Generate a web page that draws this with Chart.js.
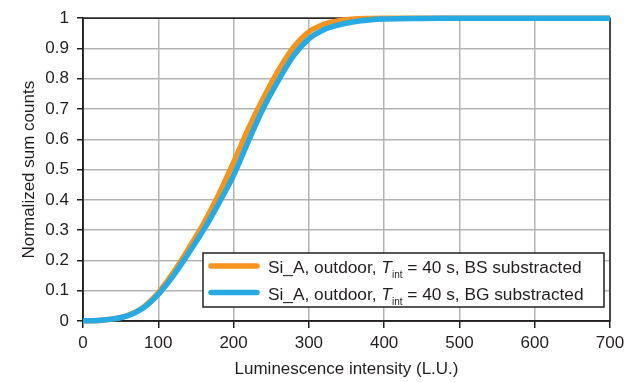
<!DOCTYPE html>
<html>
<head>
<meta charset="utf-8">
<script src="https://cdn.jsdelivr.net/npm/chart.js@4"></script>
<style>
  html, body { margin: 0; padding: 0; background: #fff; }
</style>
</head>
<body>
<canvas id="chart" width="634" height="382"></canvas>
<script>
// luminescence intensity (L.U.) at which the cumulative counts were read
const intensity = [0, 20, 40, 60, 80, 100, 120, 140, 160, 180, 200, 220, 240, 260, 280, 300, 320, 340, 360, 380, 400, 450, 500, 600, 700];
// normalized sum counts, BS subtracted
const countsBS = [0.001, 0.002, 0.007, 0.019, 0.045, 0.093, 0.160, 0.238, 0.321, 0.416, 0.524, 0.637, 0.738, 0.829, 0.905, 0.955, 0.980, 0.992, 0.997, 0.999, 1, 1, 1, 1, 1];
// normalized sum counts, BG subtracted
const countsBG = [0.001, 0.002, 0.007, 0.018, 0.043, 0.088, 0.150, 0.223, 0.300, 0.387, 0.481, 0.596, 0.705, 0.796, 0.877, 0.932, 0.962, 0.978, 0.988, 0.994, 0.997, 0.999, 1, 1, 1];

const seriesLabels = [
  'Si_A, outdoor, T_int = 40 s, BS substracted',
  'Si_A, outdoor, T_int = 40 s, BG substracted'
];
const xTickLabels = ['0', '100', '200', '300', '400', '500', '600', '700'];
const yTickLabels = ['0', '0.1', '0.2', '0.3', '0.4', '0.5', '0.6', '0.7', '0.8', '0.9', '1'];

const FONT = "'Liberation Sans', Arial, sans-serif";
const INK = '#231f20';
const ORANGE = '#f7941e';
const BLUE = '#27aae1';

const toPoints = ys => intensity.map((x, i) => ({ x: x, y: ys[i] }));

// black box round the plot area
const frame = {
  id: 'frame',
  beforeDatasetsDraw(chart) {
    const { ctx, chartArea: a } = chart;
    ctx.save();
    ctx.strokeStyle = INK;
    ctx.lineWidth = 1.5;
    ctx.strokeRect(a.left, a.top, a.right - a.left, a.bottom - a.top);
    ctx.restore();
  }
};

// label with italic T and a subscript "int"
function drawLabel(ctx, text, x, y) {
  const [pre, post] = text.split('T_int');
  ctx.font = '17.3px ' + FONT;
  ctx.fillText(pre, x, y);
  x += ctx.measureText(pre).width;
  ctx.font = 'italic 17.3px ' + FONT;
  ctx.fillText('T', x, y);
  x += ctx.measureText('T').width;
  ctx.font = '10px ' + FONT;
  ctx.fillText('int', x, y + 5);
  x += ctx.measureText('int').width;
  ctx.font = '17.3px ' + FONT;
  ctx.fillText(post, x, y);
}

// legend box in the lower right of the plot
const boxLegend = {
  id: 'boxLegend',
  afterDatasetsDraw(chart) {
    const { ctx, chartArea: a } = chart;
    const w = 401, h = 54;
    const right = a.right - 6, bottom = a.bottom - 14;
    const left = right - w, top = bottom - h;
    ctx.save();
    ctx.fillStyle = '#fff';
    ctx.fillRect(left, top, w, h);
    ctx.strokeStyle = INK;
    ctx.lineWidth = 1.5;
    ctx.strokeRect(left, top, w, h);
    const colors = [ORANGE, BLUE];
    seriesLabels.forEach((label, i) => {
      const cy = top + 13 + i * 26.5;
      ctx.strokeStyle = colors[i];
      ctx.lineWidth = 5.5;
      ctx.lineCap = 'round';
      ctx.beginPath();
      ctx.moveTo(left + 8, cy);
      ctx.lineTo(left + 54, cy);
      ctx.stroke();
      ctx.fillStyle = INK;
      ctx.textBaseline = 'alphabetic';
      drawLabel(ctx, label, left + 65, cy + 7);
    });
    ctx.restore();
  }
};

const lineStyle = {
  borderWidth: 5.5,
  pointRadius: 0,
  tension: 0.35,
  clip: 6
};

new Chart(document.getElementById('chart').getContext('2d'), {
  type: 'line',
  data: {
    datasets: [
      Object.assign({ label: seriesLabels[0], data: toPoints(countsBS), borderColor: ORANGE, order: 1 }, lineStyle),
      Object.assign({ label: seriesLabels[1], data: toPoints(countsBG), borderColor: BLUE, order: 0 }, lineStyle)
    ]
  },
  options: {
    responsive: false,
    animation: false,
    devicePixelRatio: 1,
    layout: { padding: { top: 17, right: 24, left: 0, bottom: 0 } },
    plugins: { legend: { display: false }, tooltip: { enabled: false } },
    scales: {
      x: {
        type: 'linear',
        min: 0,
        max: 700,
        afterFit(s) { s.height = 61; },
        ticks: {
          stepSize: 100,
          color: INK,
          padding: 5,
          maxRotation: 0,
          font: { family: FONT, size: 17 },
          callback: (v, i) => xTickLabels[i]
        },
        grid: { color: '#b3b3b3', lineWidth: 1.5, tickLength: 7, tickColor: INK, tickWidth: 1.5 },
        border: { color: INK, width: 1.5 },
        title: {
          display: true,
          text: 'Luminescence intensity (L.U.)',
          color: INK,
          font: { family: FONT, size: 17 },
          padding: { top: 0, bottom: 2 }
        }
      },
      y: {
        min: 0,
        max: 1,
        afterFit(s) { s.width = 83; },
        ticks: {
          stepSize: 0.1,
          color: INK,
          padding: 8,
          font: { family: FONT, size: 17 },
          callback: (v, i) => yTickLabels[i]
        },
        grid: { color: '#b3b3b3', lineWidth: 1.5, tickLength: 6, tickColor: INK, tickWidth: 1.5 },
        border: { color: INK, width: 1.5 },
        title: {
          display: true,
          text: 'Normalized sum counts',
          color: INK,
          font: { family: FONT, size: 17 },
          padding: { top: 19, bottom: 0 }
        }
      }
    }
  },
  plugins: [frame, boxLegend]
});
</script>
</body>
</html>
